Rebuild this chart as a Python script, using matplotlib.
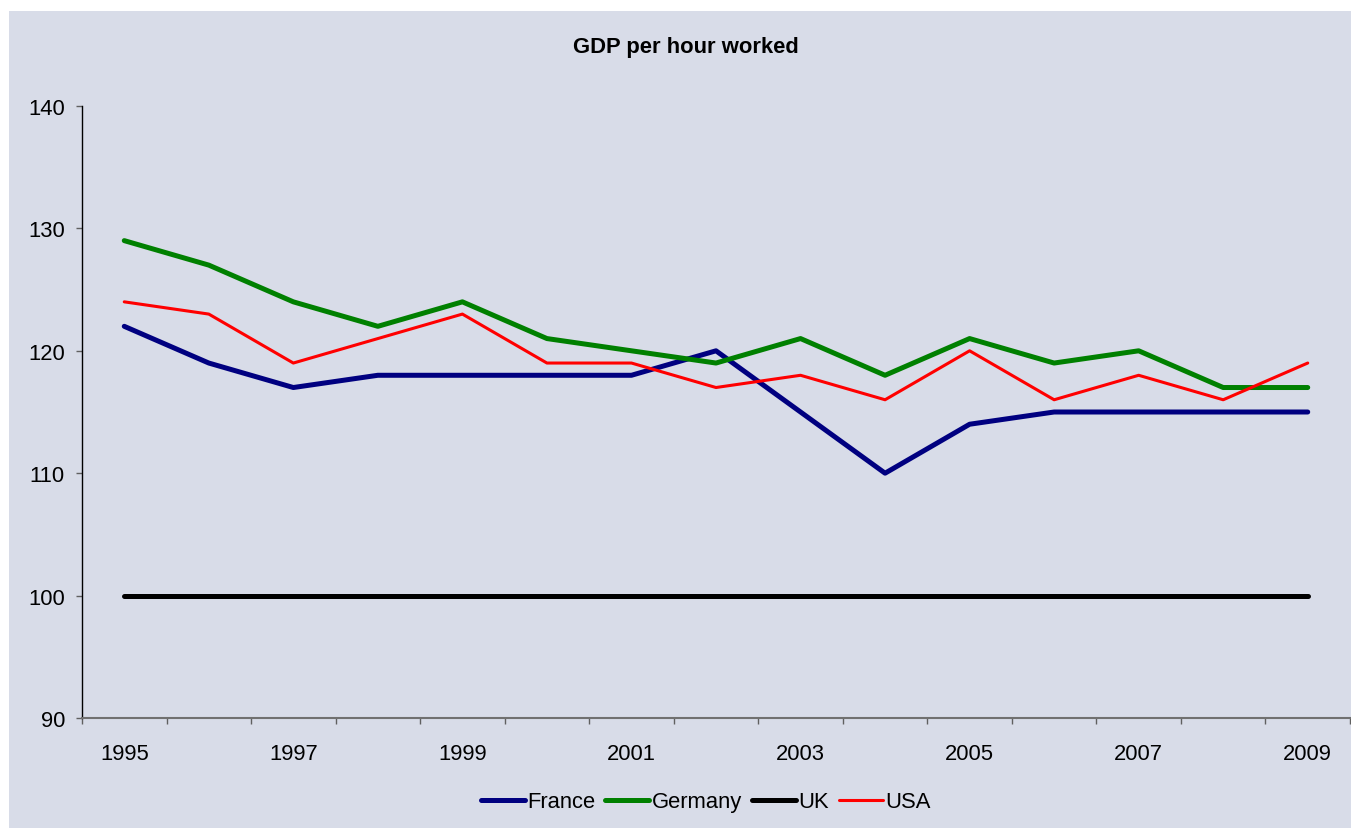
import matplotlib
matplotlib.use("Agg")
import matplotlib.pyplot as plt
from matplotlib.patches import Rectangle
import numpy as np

years = [1995, 1996, 1997, 1998, 1999, 2000, 2001, 2002, 2003, 2004, 2005, 2006, 2007, 2008, 2009]
france = [122, 119, 117, 118, 118, 118, 118, 120, 115, 110, 114, 115, 115, 115, 115]
germany = [129, 127, 124, 122, 124, 121, 120, 119, 121, 118, 121, 119, 120, 117, 117]
uk = [100] * 15
usa = [124, 123, 119, 121, 123, 119, 119, 117, 118, 116, 120, 116, 118, 116, 119]
yticks = [90, 100, 110, 120, 130, 140]

plt.rcParams['font.family'] = ['Liberation Sans', 'DejaVu Sans']
FS = 15.8
BG = '#D8DCE8'

W, H = 1351, 829
fig = plt.figure(figsize=(W / 100, H / 100), dpi=100, facecolor='white')
fig.patches.append(Rectangle((9 / W, 0), 1 - 9 / W, 1 - 12 / H, transform=fig.transFigure,
                             facecolor=BG, edgecolor='none', zorder=-10))

ax = fig.add_axes([82 / W, 1 - 719 / H, (1350 - 82) / W, (719 - 107) / H])
ax.set_facecolor(BG)

x = np.arange(len(years))
kw = dict(solid_joinstyle='round', solid_capstyle='round')
ax.plot(x, france, color='#000080', lw=3.6, label='France', **kw)
ax.plot(x, germany, color='#008000', lw=3.6, label='Germany', **kw)
ax.plot(x, uk, color='black', lw=3.6, label='UK', **kw)
ax.plot(x, usa, color='#FF0000', lw=2.2, label='USA', **kw)

ax.set_xlim(-0.5, len(years) - 0.5)
ax.set_ylim(90, 140)
ax.set_yticks(yticks)
ax.set_yticklabels([str(v) for v in yticks], fontsize=FS)

# category labels (every other year) and boundary ticks
ax.set_xticks(np.arange(-0.5, len(years), 1.0))
ax.set_xticklabels([])
ax.set_xticks(x[::2], minor=True)
ax.set_xticklabels([str(y) for y in years[::2]], minor=True, fontsize=FS)
ax.tick_params(axis='x', which='major', length=4.3, width=1, color='#606060', direction='out')
ax.tick_params(axis='x', which='minor', length=0, pad=18)
ax.tick_params(axis='y', length=4.3, width=1, color='#606060', direction='out', pad=8)

for s in ['top', 'right']:
    ax.spines[s].set_visible(False)
ax.spines['left'].set_color('black')
ax.spines['left'].set_linewidth(1)
ax.spines['bottom'].set_color('#707070')
ax.spines['bottom'].set_linewidth(1.5)

fig.text(686 / W, 1 - 48 / H, 'GDP per hour worked', ha='center', va='center',
         fontsize=FS, fontweight='bold')

leg = fig.legend(loc='center', bbox_to_anchor=(706 / W, 1 - 803 / H), ncol=4, frameon=False,
                 fontsize=FS, handlelength=2.0, handletextpad=0.12, columnspacing=0.45,
                 borderpad=0, borderaxespad=0)

fig.savefig('out.png', dpi=100, facecolor='white')
